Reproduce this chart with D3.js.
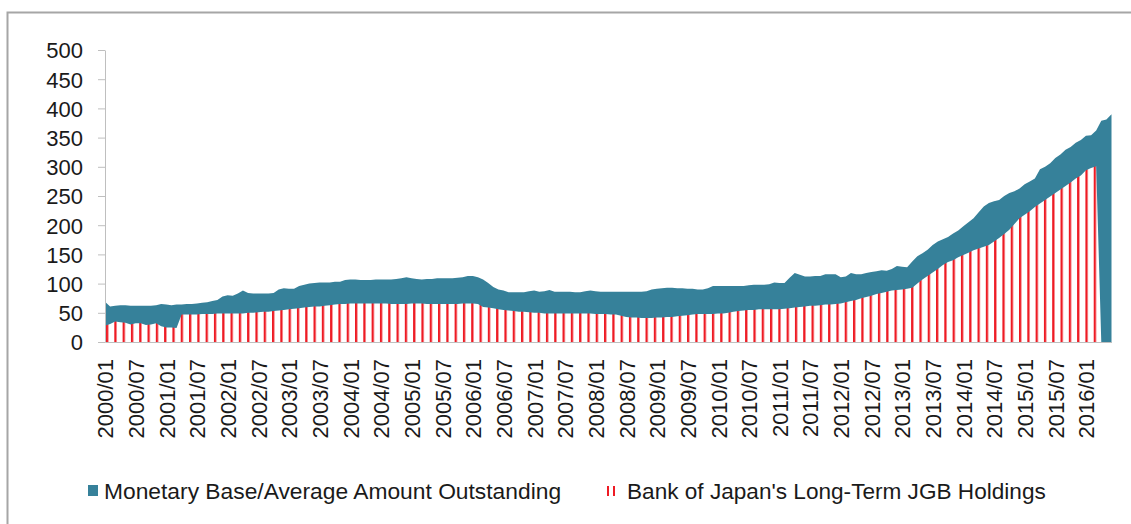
<!DOCTYPE html>
<html>
<head>
<meta charset="utf-8">
<script src="https://cdn.jsdelivr.net/npm/d3@7/dist/d3.min.js"></script>
<style>
  body { margin: 0; background: #fff; }
  svg { display: block; font-family: "Liberation Sans", Arial, sans-serif; }
</style>
</head>
<body>
<div id="chart"></div>
<script>
// canvas
var width = 1131;
var height = 524;

// monthly categories, 2000/01 .. 2016/06
var months = [];
for (var yr = 2000; yr <= 2016; yr++) {
  for (var m = 1; m <= 12; m++) {
    if (yr === 2016 && m > 6) break;
    months.push(yr + "/" + (m < 10 ? "0" + m : m));
  }
}

// Monetary Base / Average Amount Outstanding (trillion yen)
var monetaryBase = [
  69, 61, 62, 63, 63, 62, 62, 62, 62, 62, 63, 65,
  64, 63, 64, 64, 65, 65, 66, 67, 68, 70, 72, 78,
  80, 79, 83, 88, 84, 83, 83, 83, 83, 84, 90, 92,
  91, 91, 96, 98, 100, 101, 102, 102, 102, 103, 103, 106,
  107, 107, 106, 106, 106, 107, 107, 107, 107, 108, 109, 111,
  109, 108, 107, 108, 108, 109, 109, 109, 109, 110, 111, 113,
  113, 111, 107, 101, 94, 90, 88, 85, 85, 85, 85, 87,
  88, 86, 87, 89, 86, 86, 86, 86, 85, 85, 87, 88,
  87, 86, 86, 86, 86, 86, 86, 86, 86, 86, 87, 90,
  91, 92, 93, 93, 92, 92, 91, 91, 90, 90, 92, 96,
  96, 96, 96, 96, 96, 96, 97, 98, 98, 98, 99, 102,
  101, 101, 110, 118, 115, 112, 112, 113, 113, 116, 116, 116,
  111, 112, 118, 116, 116, 118, 120, 121, 123, 122, 125, 130,
  129, 128, 138, 147, 152, 158, 166, 172, 176, 180, 186, 191,
  198, 205, 212, 222, 232, 238, 241, 243, 250, 255, 258, 263,
  270, 275, 280, 296, 300, 306, 315, 321, 329, 334, 341, 346,
  353, 354, 362, 379, 381, 390
];

// Bank of Japan's Long-Term JGB Holdings (trillion yen)
var jgbHoldings = [
  28, 31, 35, 34, 33, 30, 32, 32, 29, 30, 32, 27,
  25, 25, 24, 47, 47, 47, 47, 48, 48, 48, 49, 49,
  49, 49, 49, 49, 50, 50, 51, 52, 52, 53, 54, 55,
  56, 57, 58, 59, 60, 61, 61, 62, 63, 64, 65, 65,
  66, 66, 66, 66, 66, 66, 66, 66, 65, 65, 65, 65,
  66, 66, 66, 65, 65, 65, 65, 65, 65, 65, 66, 66,
  66, 65, 60, 59, 58, 56, 55, 54, 53, 52, 52, 51,
  50, 50, 49, 49, 49, 49, 49, 49, 49, 49, 49, 49,
  48, 48, 48, 47, 47, 45, 43, 42, 42, 41, 41, 41,
  42, 42, 43, 43, 44, 45, 46, 47, 48, 48, 48, 48,
  49, 49, 50, 52, 53, 54, 55, 55, 56, 56, 56, 56,
  56, 57, 58, 59, 60, 61, 62, 62, 63, 64, 64, 65,
  66, 68, 70, 72, 75, 77, 79, 82, 84, 86, 88, 89,
  90, 91, 93, 100, 107, 113, 119, 125, 132, 137, 140, 145,
  149, 153, 157, 160, 163, 166, 172, 178, 185, 192, 202, 212,
  218, 224, 231, 237, 243, 249, 255, 261, 267, 273, 280, 285,
  294, 298, 301, 0, 0, 0
];

var tickLabels = [
  "2000/01", "2000/07", "2001/01", "2001/07", "2002/01", "2002/07",
  "2003/01", "2003/07", "2004/01", "2004/07", "2005/01", "2005/07",
  "2006/01", "2006/07", "2007/01", "2007/07", "2008/01", "2008/07",
  "2009/01", "2009/07", "2010/01", "2010/07", "2011/01", "2011/07",
  "2012/01", "2012/07", "2013/01", "2013/07", "2014/01", "2014/07",
  "2015/01", "2015/07", "2016/01"
];

var yTicks = [0, 50, 100, 150, 200, 250, 300, 350, 400, 450, 500];

var seriesNames = ["Monetary Base/Average Amount Outstanding", "Bank of Japan's Long-Term JGB Holdings"];

var teal = "#36819a";
var red = "#ee1b24";

var svg = d3.select("#chart")
  .append("svg")
    .attr("width", width)
    .attr("height", height);

// outer frame
svg.append("rect")
  .attr("x", 7.5).attr("y", 12.5)
  .attr("width", 1140).attr("height", 530)
  .attr("fill", "none")
  .attr("stroke", "#a6a6a6")
  .attr("stroke-width", 2);

var x = d3.scalePoint()
  .domain(months)
  .range([105, 1111.5]);

var y = d3.scaleLinear()
  .domain([0, 500])
  .range([342, 50]);

// striped fill for the JGB series
var defs = svg.append("defs");
var pat = defs.append("pattern")
  .attr("id", "stripes")
  .attr("patternUnits", "userSpaceOnUse")
  .attr("x", 106).attr("y", 0)
  .attr("width", 8.3).attr("height", 10);
pat.append("rect").attr("width", 8.3).attr("height", 10).attr("fill", "#fff");
pat.append("rect").attr("width", 2.3).attr("height", 10).attr("fill", red);

var areaBase = d3.area()
  .x(function(d, i) { return x(months[i]); })
  .y0(y(0))
  .y1(function(d) { return y(d); });

svg.append("path")
  .datum(monetaryBase)
  .attr("d", areaBase)
  .attr("fill", teal);

svg.append("path")
  .datum(jgbHoldings)
  .attr("d", areaBase)
  .attr("fill", "url(#stripes)");

// y axis
var yAxis = svg.append("g")
  .attr("transform", "translate(105,0)")
  .call(d3.axisLeft(y).tickValues(yTicks).tickSize(7).tickSizeOuter(0).tickPadding(15));
yAxis.select(".domain").attr("stroke", "#bfbfbf");
yAxis.selectAll(".tick line").attr("stroke", "#bfbfbf");
yAxis.selectAll(".tick text")
  .style("font-size", "22px")
  .attr("fill", "#1a1a1a")
  .attr("dy", "0.36em");

// x axis
var xAxis = svg.append("g")
  .attr("transform", "translate(0,342)")
  .call(d3.axisBottom(x).tickValues(tickLabels).tickSize(0).tickSizeOuter(0));
xAxis.select(".domain").attr("stroke", "#bfbfbf");
xAxis.selectAll(".tick text")
  .style("font-size", "22px")
  .attr("fill", "#1a1a1a")
  .attr("text-anchor", "end")
  .attr("y", 0)
  .attr("dy", "0.36em")
  .attr("transform", "translate(0,17) rotate(-90)");

// legend
var legend = svg.append("g");
legend.append("rect")
  .attr("x", 88).attr("y", 485)
  .attr("width", 10).attr("height", 11)
  .attr("fill", teal);
legend.append("text")
  .attr("x", 104).attr("y", 499)
  .style("font-size", "22.8px")
  .attr("fill", "#1a1a1a")
  .text(seriesNames[0]);

legend.selectAll("line.swatch")
  .data([608, 614])
  .enter()
  .append("line")
    .attr("x1", function(d) { return d; })
    .attr("x2", function(d) { return d; })
    .attr("y1", 486).attr("y2", 496)
    .attr("stroke", red)
    .attr("stroke-width", 2);
legend.append("text")
  .attr("x", 627).attr("y", 499)
  .style("font-size", "22.6px")
  .attr("fill", "#1a1a1a")
  .text(seriesNames[1]);
</script>
</body>
</html>
